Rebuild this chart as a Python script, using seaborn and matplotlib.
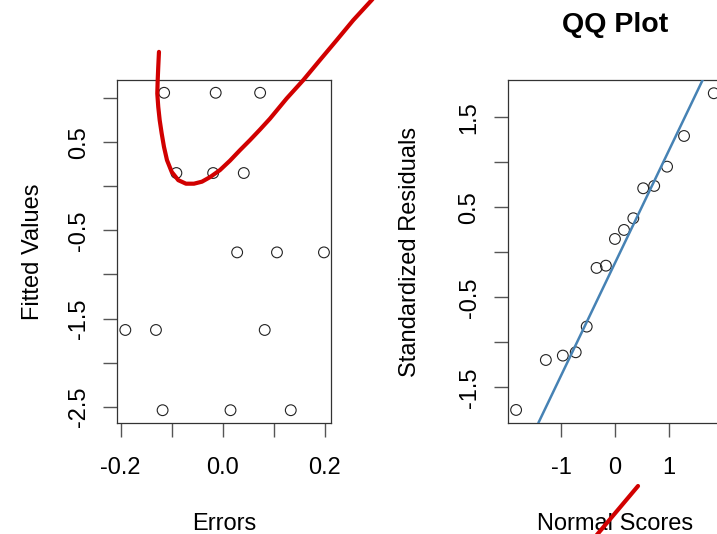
import numpy as np
import pandas as pd
import matplotlib
matplotlib.use("Agg")
import matplotlib.pyplot as plt
import seaborn as sns

# ---- data: left panel (Errors vs Fitted Values) ----
errors = [-0.115, -0.014, 0.073, -0.091, -0.019, 0.041, 0.028, 0.106, 0.198,
          -0.191, -0.131, 0.082, -0.118, 0.015, 0.133]
fitted = [1.06, 1.06, 1.06, 0.15, 0.15, 0.15, -0.75, -0.75, -0.75,
          -1.63, -1.63, -1.63, -2.54, -2.54, -2.54]

# red curve drawn over the left panel (data coordinates of left panel)
curve_x = [-0.1251, -0.1265, -0.1276, -0.1284, -0.1265, -0.1237, -0.1198, -0.1153,
           -0.1094, -0.1002, -0.0873, -0.0722, -0.0566, -0.0409, -0.0252, -0.0057,
           0.0139, 0.0335, 0.0531, 0.0726, 0.0922, 0.1249, 0.1574, 0.1900,
           0.2228, 0.2553, 0.2913, 0.3115]
curve_y = [1.524, 1.354, 1.203, 1.052, 0.900, 0.749, 0.599, 0.447,
           0.296, 0.163, 0.069, 0.029, 0.029, 0.052, 0.103, 0.183,
           0.290, 0.409, 0.523, 0.642, 0.766, 0.995, 1.203, 1.430,
           1.656, 1.883, 2.110, 2.246]

# ---- data: right panel (QQ plot) ----
normal_scores = [-1.834, -1.282, -0.967, -0.728, -0.524, -0.341, -0.168, 0.0,
                 0.168, 0.341, 0.524, 0.728, 0.967, 1.282, 1.834]
std_resid = [-1.752, -1.197, -1.148, -1.111, -0.826, -0.174, -0.149, 0.148,
             0.248, 0.378, 0.711, 0.737, 0.951, 1.292, 1.767]
qq_intercept = -0.12
qq_slope = 1.25

# red segment over the right panel (data coordinates of right panel)
seg_x = [0.428, -0.520]
seg_y = [-2.597, -3.271]

left_yticks = [1.0, 0.5, 0.0, -0.5, -1.0, -1.5, -2.0, -2.5]
left_ylabels = ["", "0.5", "", "-0.5", "", "-1.5", "", "-2.5"]
left_xticks = [-0.2, -0.1, 0.0, 0.1, 0.2]
left_xlabels = ["-0.2", "", "0.0", "", "0.2"]
right_yticks = [1.5, 1.0, 0.5, 0.0, -0.5, -1.0, -1.5]
right_ylabels = ["1.5", "", "0.5", "", "-0.5", "", "-1.5"]
right_xticks = [-1, 0, 1]
right_xlabels = ["-1", "0", "1"]

sns.set_style("white")
plt.rcParams["font.family"] = ["Liberation Sans", "DejaVu Sans"]
plt.rcParams["text.color"] = "black"
plt.rcParams["axes.labelcolor"] = "black"

W, H = 717, 534
fig = plt.figure(figsize=(W / 100, H / 100), dpi=100)
ax1 = fig.add_axes([117 / W, 111 / H, 214 / W, 343 / H])
ax2 = fig.add_axes([507.7 / W, 111 / H, 214.5 / W, 343 / H])

FS = 17
SP_COLOR = "#333333"
TK_COLOR = "#555555"

def style(ax):
    for s in ax.spines.values():
        s.set_visible(True)
        s.set_color(SP_COLOR)
        s.set_linewidth(0.9)
    ax.tick_params(axis="both", which="major", bottom=True, left=True,
                   direction="out", length=10, width=1.0,
                   color=TK_COLOR, labelsize=FS, labelcolor="black")
    ax.tick_params(axis="x", pad=14.5)
    ax.tick_params(axis="y", pad=9.5)

df1 = pd.DataFrame({"Errors": errors, "Fitted": fitted})
sns.scatterplot(data=df1, x="Errors", y="Fitted", ax=ax1, s=60,
                facecolor="none", edgecolor="#222222", linewidth=0.8, zorder=3)
ax1.set_xlim(-0.2073, 0.2118)
ax1.set_ylim(-2.685, 1.205)
style(ax1)
ax1.set_yticks(left_yticks)
ax1.set_yticklabels(left_ylabels, rotation=90, va="center")
ax1.set_xticks(left_xticks)
ax1.set_xticklabels(left_xlabels)
ax1.set_xlabel("Errors", fontsize=FS)
ax1.set_ylabel("Fitted Values", fontsize=FS)
ax1.xaxis.set_label_coords(0.5, (10 - 111) / 343)
ax1.xaxis.label.set_va("center")
ax1.yaxis.set_label_coords((33 - 117) / 214, 0.5)
ax1.yaxis.label.set_va("center")
sns.lineplot(x=curve_x, y=curve_y, sort=False, estimator=None, ax=ax1,
             color="#D10000", lw=3.0, clip_on=False, zorder=6,
             solid_joinstyle="round", solid_capstyle="round")

df2 = pd.DataFrame({"Normal Scores": normal_scores, "Std": std_resid})
sns.scatterplot(data=df2, x="Normal Scores", y="Std", ax=ax2, s=60,
                facecolor="none", edgecolor="#222222", linewidth=0.8, zorder=3)
ax2.axline((0, qq_intercept), slope=qq_slope, color="#4682B4", lw=1.8, zorder=4)
ax2.set_xlim(-1.99, 1.99)
ax2.set_ylim(-1.897, 1.914)
style(ax2)
ax2.set_yticks(right_yticks)
ax2.set_yticklabels(right_ylabels, rotation=90, va="center")
ax2.set_xticks(right_xticks)
ax2.set_xticklabels(right_xlabels)
ax2.set_xlabel("Normal Scores", fontsize=FS)
ax2.set_ylabel("Standardized Residuals", fontsize=FS)
ax2.xaxis.set_label_coords(0.5, (10 - 111) / 343)
ax2.xaxis.label.set_va("center")
ax2.yaxis.set_label_coords((410 - 507.7) / 214.5, 0.5)
ax2.yaxis.label.set_va("center")
ax2.set_title("QQ Plot", fontsize=20.5, fontweight="bold", color="black",
              y=(509 - 111) / 343, va="center", pad=0)
sns.lineplot(x=seg_x, y=seg_y, sort=False, estimator=None, ax=ax2,
             color="#D10000", lw=3.0, clip_on=False, zorder=6,
             solid_capstyle="round")

fig.savefig("out.png", dpi=100)
